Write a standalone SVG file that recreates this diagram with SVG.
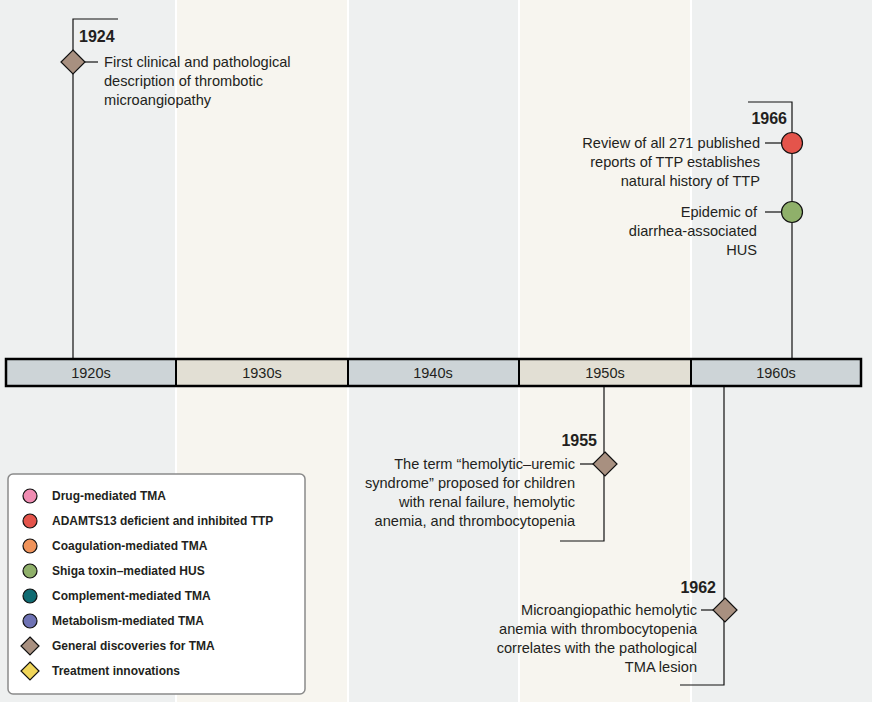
<svg xmlns="http://www.w3.org/2000/svg" width="872" height="702" viewBox="0 0 872 702">
<style>
.t{font-family:"Liberation Sans",Arial,sans-serif;font-size:14.6px;fill:#231f20}
.yr{font-family:"Liberation Sans",Arial,sans-serif;font-size:16px;font-weight:bold;fill:#231f20}
.dec{font-family:"Liberation Sans",Arial,sans-serif;font-size:14.5px;fill:#231f20;text-anchor:middle}
.lg{font-family:"Liberation Sans",Arial,sans-serif;font-size:12px;font-weight:bold;fill:#231f20}
.ln{stroke:#111;stroke-width:1.2;fill:none}
.mk{stroke:#111;stroke-width:1.2}
.r{text-anchor:end}
</style>
<defs>
<path id="dia" d="M0,-12 L12,0 L0,12 L-12,0Z"/>
<path id="dias" d="M0,-9 L9,0 L0,9 L-9,0Z"/>
</defs>
<g id="background">
<rect x="0" y="0" width="872" height="702" fill="#ffffff"/>
<rect x="0" y="0" width="175" height="702" fill="#eef0f0"/>
<rect x="177" y="0" width="170" height="702" fill="#f7f5ef"/>
<rect x="349" y="0" width="169" height="702" fill="#eef0f0"/>
<rect x="520" y="0" width="170" height="702" fill="#f7f5ef"/>
<rect x="692" y="0" width="180" height="702" fill="#eef0f0"/>
</g>
<g id="connectors">
<polyline class="ln" points="118,19 73,19 73,358"/>
<line class="ln" x1="85" y1="62" x2="98" y2="62"/>
<polyline class="ln" points="748,102 792,102 792,358"/>
<line class="ln" x1="765" y1="143" x2="782" y2="143"/>
<line class="ln" x1="765" y1="212" x2="782" y2="212"/>
<polyline class="ln" points="604,387 604,541 560,541"/>
<line class="ln" x1="580" y1="464" x2="593" y2="464"/>
<polyline class="ln" points="724,387 724,685 680,685"/>
<line class="ln" x1="701" y1="610" x2="713" y2="610"/>
</g>
<g id="timeline">
<rect x="6" y="359" width="170" height="27" fill="#cdd4d7"/>
<rect x="176" y="359" width="172" height="27" fill="#e2dfd4"/>
<rect x="348" y="359" width="171" height="27" fill="#cdd4d7"/>
<rect x="519" y="359" width="172" height="27" fill="#e2dfd4"/>
<rect x="691" y="359" width="170" height="27" fill="#cdd4d7"/>
<rect x="6" y="359" width="855" height="27" fill="none" stroke="#000" stroke-width="2.5"/>
<g stroke="#000" stroke-width="2">
<line x1="176" y1="359" x2="176" y2="386"/>
<line x1="348" y1="359" x2="348" y2="386"/>
<line x1="519" y1="359" x2="519" y2="386"/>
<line x1="691" y1="359" x2="691" y2="386"/>
</g>
<text class="dec" x="91" y="378">1920s</text>
<text class="dec" x="262" y="378">1930s</text>
<text class="dec" x="433" y="378">1940s</text>
<text class="dec" x="605" y="378">1950s</text>
<text class="dec" x="776" y="378">1960s</text>
</g>
<g id="e1924">
<text class="yr" x="79" y="42">1924</text>
<use href="#dia" x="73" y="62" fill="#a89080" class="mk"/>
<text class="t" x="104" y="67">First clinical and pathological</text>
<text class="t" x="104" y="86">description of thrombotic</text>
<text class="t" x="104" y="105">microangiopathy</text>
</g>
<g id="e1966">
<text class="yr r" x="787" y="124">1966</text>
<circle cx="792" cy="143" r="10.5" fill="#e4544b" class="mk"/>
<text class="t r" x="760" y="148">Review of all 271 published</text>
<text class="t r" x="760" y="167">reports of TTP establishes</text>
<text class="t r" x="760" y="186">natural history of TTP</text>
<circle cx="792" cy="212" r="10.5" fill="#8fb06a" class="mk"/>
<text class="t r" x="757" y="217">Epidemic of</text>
<text class="t r" x="757" y="236">diarrhea-associated</text>
<text class="t r" x="757" y="255">HUS</text>
</g>
<g id="e1955">
<text class="yr r" x="597" y="446">1955</text>
<use href="#dia" x="605" y="464" fill="#a89080" class="mk"/>
<text class="t r" x="575" y="469">The term “hemolytic–uremic</text>
<text class="t r" x="575" y="488">syndrome” proposed for children</text>
<text class="t r" x="575" y="507">with renal failure, hemolytic</text>
<text class="t r" x="575" y="526">anemia, and thrombocytopenia</text>
</g>
<g id="e1962">
<text class="yr r" x="716" y="593">1962</text>
<use href="#dia" x="725" y="610" fill="#a89080" class="mk"/>
<text class="t r" x="697" y="615">Microangiopathic hemolytic</text>
<text class="t r" x="697" y="634">anemia with thrombocytopenia</text>
<text class="t r" x="697" y="653">correlates with the pathological</text>
<text class="t r" x="697" y="672">TMA lesion</text>
</g>
<g id="legend">
<rect x="8" y="474" width="297" height="220" rx="5" fill="#ffffff" stroke="#8a8a8a" stroke-width="1.5"/>
<circle cx="30" cy="496" r="7" fill="#f08cb2" class="mk"/>
<text class="lg" x="52" y="500">Drug-mediated TMA</text>
<circle cx="30" cy="521" r="7" fill="#e4544b" class="mk"/>
<text class="lg" x="52" y="525">ADAMTS13 deficient and inhibited TTP</text>
<circle cx="30" cy="546" r="7" fill="#f0935a" class="mk"/>
<text class="lg" x="52" y="550">Coagulation-mediated TMA</text>
<circle cx="30" cy="571" r="7" fill="#8fb06a" class="mk"/>
<text class="lg" x="52" y="575">Shiga toxin–mediated HUS</text>
<circle cx="30" cy="596" r="7" fill="#0f6b72" class="mk"/>
<text class="lg" x="52" y="600">Complement-mediated TMA</text>
<circle cx="30" cy="621" r="7" fill="#6e72b4" class="mk"/>
<text class="lg" x="52" y="625">Metabolism-mediated TMA</text>
<use href="#dias" x="30" y="646" fill="#a89080" class="mk"/>
<text class="lg" x="52" y="650">General discoveries for TMA</text>
<use href="#dias" x="30" y="671" fill="#f0d65a" class="mk"/>
<text class="lg" x="52" y="675">Treatment innovations</text>
</g>
</svg>
